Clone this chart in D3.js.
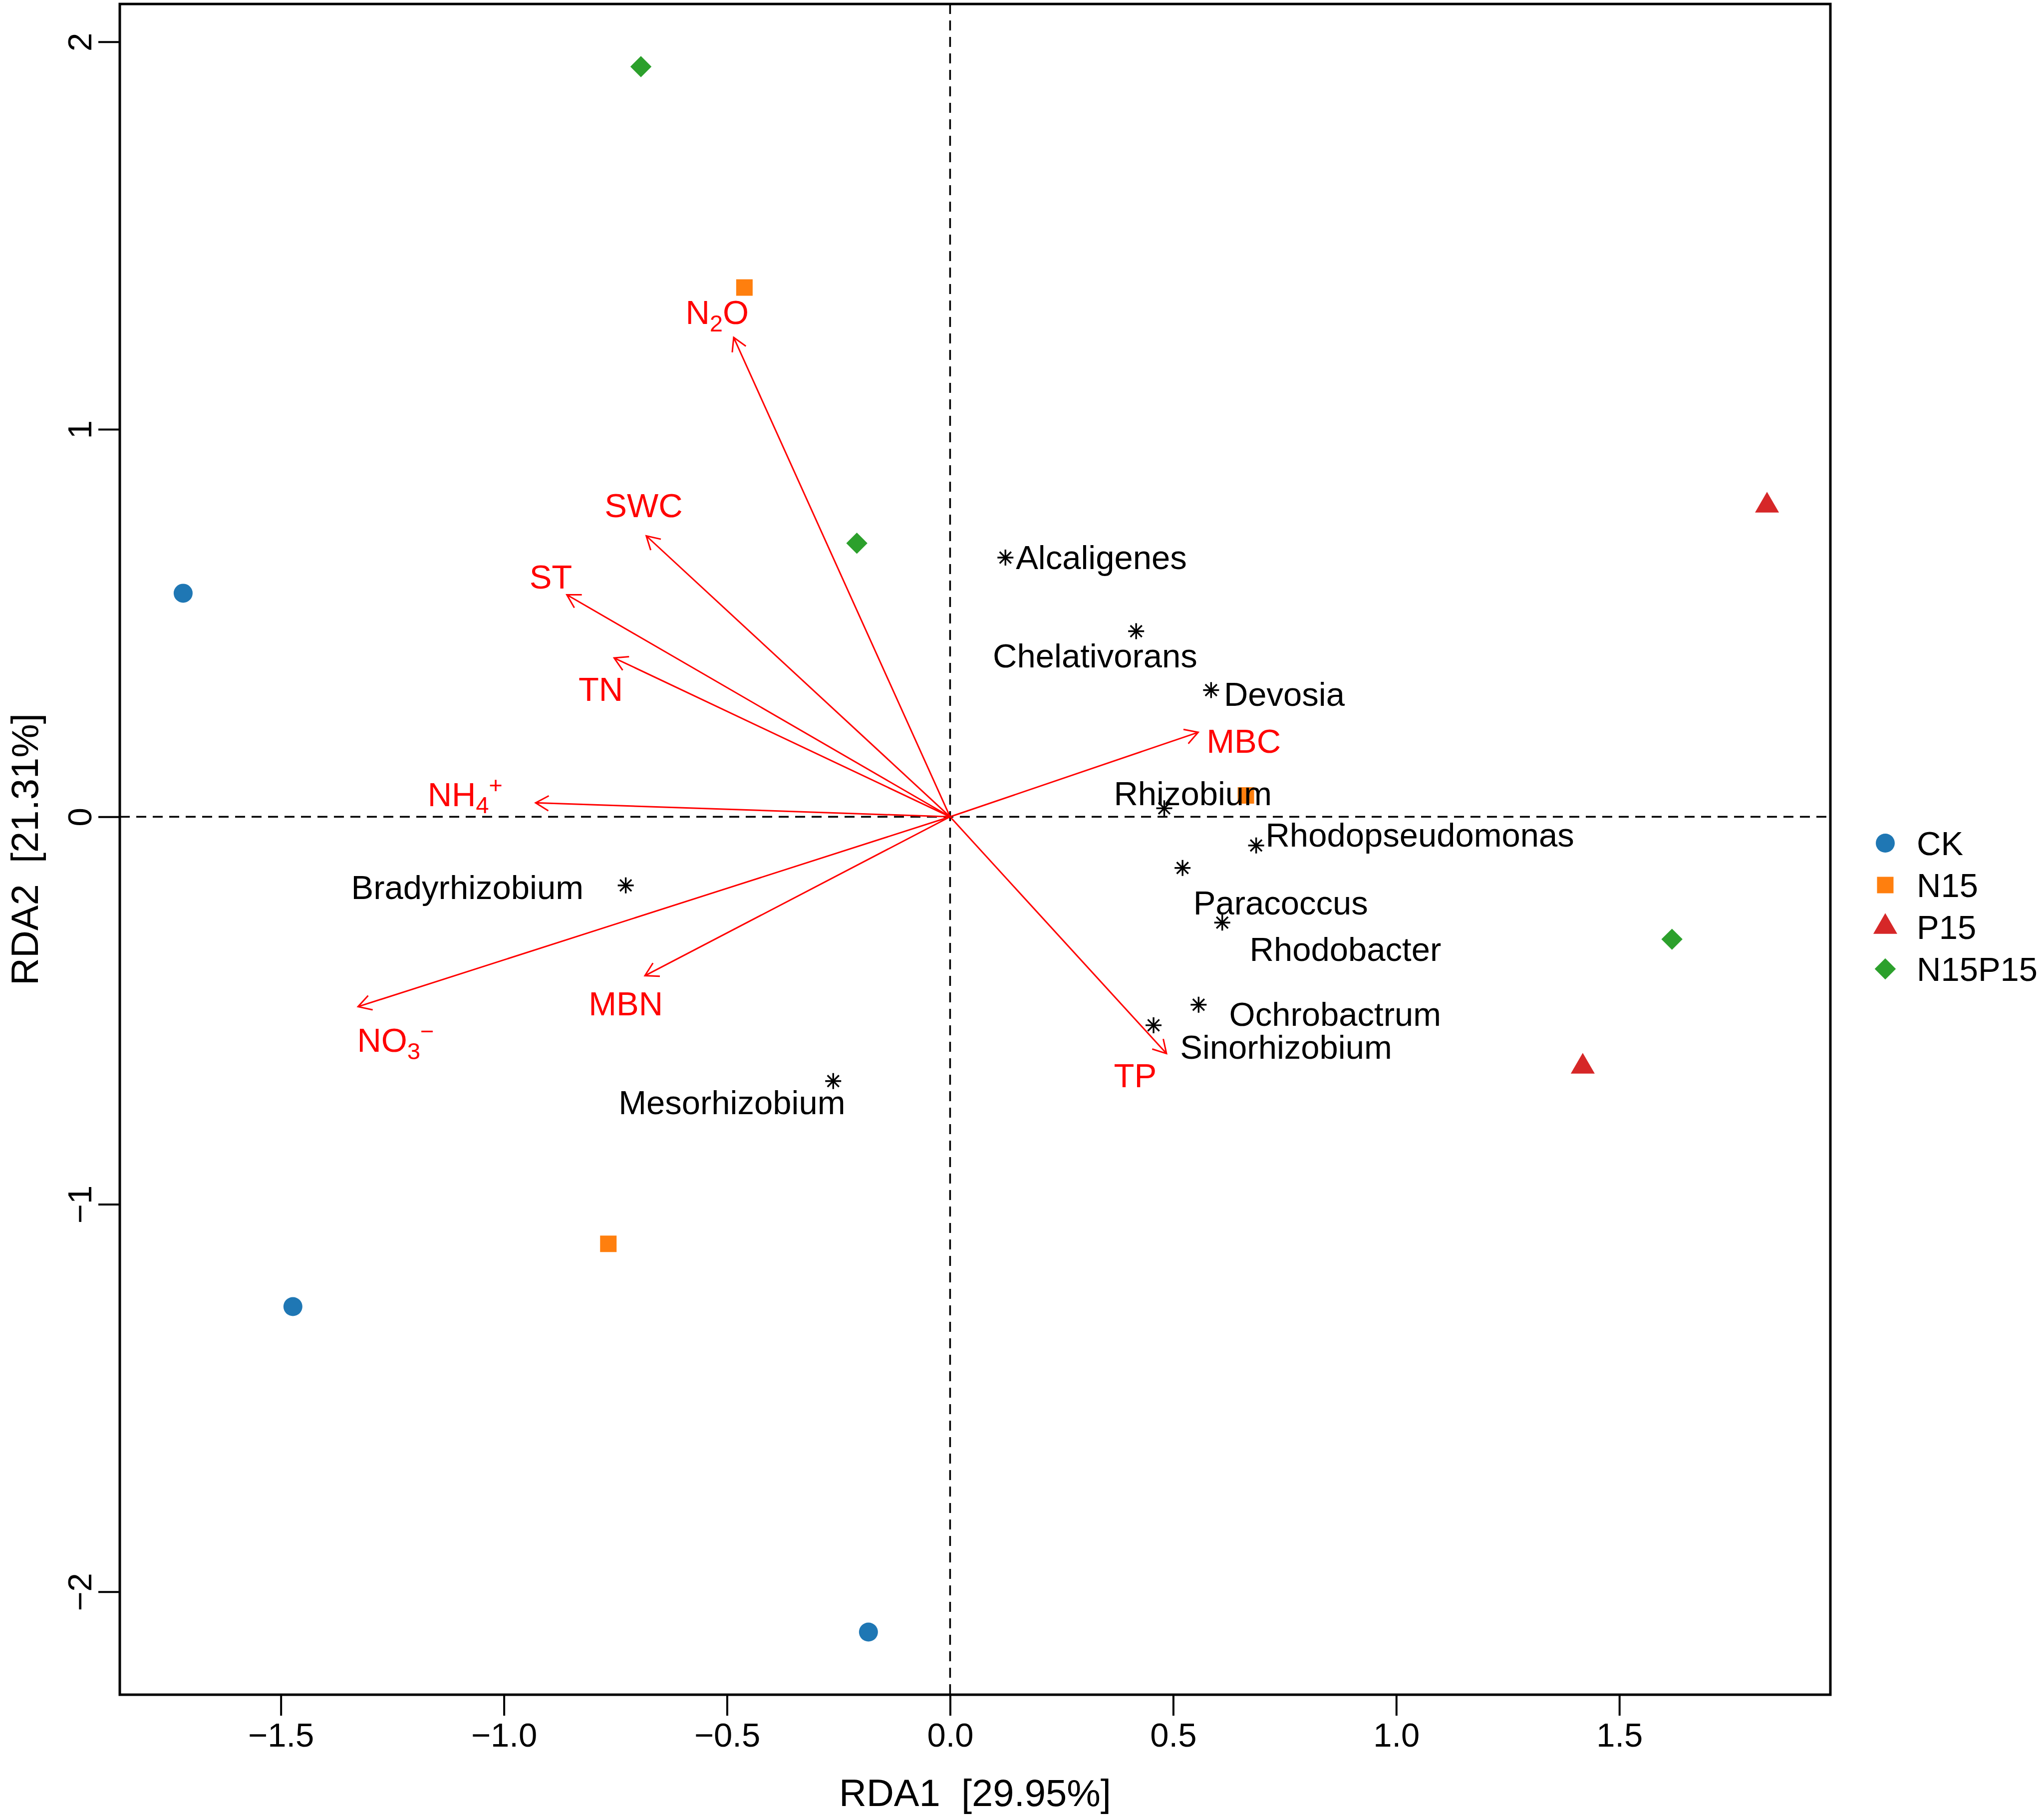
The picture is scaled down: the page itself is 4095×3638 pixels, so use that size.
<!DOCTYPE html>
<html>
<head>
<meta charset="utf-8">
<script src="https://cdn.jsdelivr.net/npm/d3@7"></script>
<style>
  html, body { margin: 0; padding: 0; background: #ffffff; }
  svg { display: block; }
  text { font-family: "Liberation Sans", Arial, "DejaVu Sans", sans-serif; }
</style>
</head>
<body>
<svg id="chart" width="4095" height="3638"></svg>
<script>
// ---------------- data ----------------
const groups = ["CK", "N15", "P15", "N15P15"];

const sampleGroup = ["CK", "CK", "CK", "N15", "N15", "N15", "P15", "P15", "N15P15", "N15P15", "N15P15"];
const sampleRDA1  = [-1.719, -1.473, -0.183, -0.461, -0.766, 0.663, 1.831, 1.418, -0.693, -0.209, 1.618];
const sampleRDA2  = [ 0.577, -1.264, -2.104,  1.366, -1.102, 0.055, 0.803, -0.645, 1.936, 0.706, -0.316];

const speciesNames = ["Alcaligenes", "Chelativorans", "Devosia", "Rhizobium", "Rhodopseudomonas",
  "Paracoccus", "Rhodobacter", "Ochrobactrum", "Sinorhizobium", "Bradyrhizobium", "Mesorhizobium"];
const speciesRDA1 = [0.124, 0.417, 0.585, 0.480, 0.686, 0.521, 0.610, 0.557, 0.456, -0.727, -0.262];
const speciesRDA2 = [0.669, 0.479, 0.327, 0.022, -0.074, -0.132, -0.273, -0.485, -0.538, -0.177, -0.682];
const speciesLabelRDA1 = [0.339, 0.325, 0.749, 0.544, 1.053, 0.741, 0.886, 0.863, 0.753, -1.082, -0.489];
const speciesLabelRDA2 = [0.639, 0.386, 0.287, 0.030, -0.077, -0.252, -0.372, -0.539, -0.624, -0.212, -0.768];

const envNames = ["N2O", "SWC", "ST", "TN", "NH4+", "NO3-", "MBN", "TP", "MBC"];
const envRDA1 = [-0.485, -0.681, -0.859, -0.753, -0.929, -1.327, -0.684, 0.485, 0.556];
const envRDA2 = [ 1.237,  0.725,  0.573,  0.410,  0.036, -0.490, -0.410, -0.611, 0.218];
const envLabelRDA1 = [-0.522, -0.687, -0.895, -0.783, -1.087, -1.243, -0.727, 0.415, 0.658];
const envLabelRDA2 = [ 1.272,  0.773,  0.589,  0.299,  0.028, -0.607, -0.512, -0.698, 0.165];

const xTicks = [-1.5, -1.0, -0.5, 0.0, 0.5, 1.0, 1.5];
const yTicks = [-2, -1, 0, 1, 2];
const xTitle = "RDA1  [29.95%]";
const yTitle = "RDA2  [21.31%]";

// ---------------- styles ----------------
const groupColors = ["#1f77b4", "#ff7f0e", "#d62728", "#2ca02c"];
const envColor = "#ff0000";
const FS = 67;       // in-plot / tick font size
const FS_TITLE = 76; // axis title font size

// ---------------- layout ----------------
const plot = { left: 240, right: 3667, top: 8, bottom: 3395 };

function padded(vals) {
  const lo = d3.min(vals), hi = d3.max(vals), p = (hi - lo) * 0.04;
  return [lo - p, hi + p];
}
const x = d3.scaleLinear().domain(padded(sampleRDA1)).range([plot.left, plot.right]);
const y = d3.scaleLinear().domain(padded(sampleRDA2)).range([plot.bottom, plot.top]);

const svg = d3.select("#chart");
svg.append("rect").attr("width", 4095).attr("height", 3638).attr("fill", "#fff");

const clipId = "plotclip";
svg.append("clipPath").attr("id", clipId).append("rect")
  .attr("x", plot.left).attr("y", plot.top)
  .attr("width", plot.right - plot.left).attr("height", plot.bottom - plot.top);

const inner = svg.append("g").attr("clip-path", `url(#${clipId})`);

// dashed zero lines
inner.append("line")
  .attr("x1", plot.left).attr("x2", plot.right).attr("y1", y(0)).attr("y2", y(0))
  .attr("stroke", "#000").attr("stroke-width", 3.5).attr("stroke-dasharray", "20 13");
inner.append("line")
  .attr("x1", x(0)).attr("x2", x(0)).attr("y1", plot.top).attr("y2", plot.bottom)
  .attr("stroke", "#000").attr("stroke-width", 3.5).attr("stroke-dasharray", "20 13");

// symbols
const symbolPath = {
  CK: d3.symbol().type(d3.symbolCircle).size(Math.PI * 19 * 19)(),
  N15: d3.symbol().type(d3.symbolSquare).size(33 * 33)(),
  P15: d3.symbol().type(d3.symbolTriangle).size(1000)(),
  N15P15: d3.symbol().type(d3.symbolSquare).size(30 * 30)()
};
const symbolRotate = { CK: 0, N15: 0, P15: 0, N15P15: 45 };
const colorOf = g => groupColors[groups.indexOf(g)];

// sample points
inner.append("g").selectAll("path")
  .data(sampleGroup.map((g, i) => ({ g, a: sampleRDA1[i], b: sampleRDA2[i] })))
  .join("path")
  .attr("d", d => symbolPath[d.g])
  .attr("transform", d => `translate(${x(d.a)},${y(d.b)}) rotate(${symbolRotate[d.g]})`)
  .attr("fill", d => colorOf(d.g));

// environmental arrows
const arrowG = inner.append("g").attr("stroke", envColor).attr("stroke-width", 3).attr("fill", "none");
envNames.forEach((n, i) => {
  const x0 = x(0), y0 = y(0), x1 = x(envRDA1[i]), y1 = y(envRDA2[i]);
  arrowG.append("line").attr("x1", x0).attr("y1", y0).attr("x2", x1).attr("y2", y1);
  const ang = Math.atan2(y1 - y0, x1 - x0);
  const L = 30, spread = Math.PI / 6;
  const p1 = [x1 - L * Math.cos(ang - spread), y1 - L * Math.sin(ang - spread)];
  const p2 = [x1 - L * Math.cos(ang + spread), y1 - L * Math.sin(ang + spread)];
  arrowG.append("path").attr("d", `M${p1[0]},${p1[1]}L${x1},${y1}L${p2[0]},${p2[1]}`);
});

// species markers (pch 8 style star)
const starG = inner.append("g").attr("stroke", "#000").attr("stroke-width", 3.4);
speciesNames.forEach((n, i) => {
  const cx = x(speciesRDA1[i]), cy = y(speciesRDA2[i]), r = 16, d = r * 0.72;
  const g = starG.append("g").attr("transform", `translate(${cx},${cy})`);
  g.append("line").attr("x1", -r).attr("x2", r).attr("y1", 0).attr("y2", 0);
  g.append("line").attr("x1", 0).attr("x2", 0).attr("y1", -r).attr("y2", r);
  g.append("line").attr("x1", -d).attr("x2", d).attr("y1", -d).attr("y2", d);
  g.append("line").attr("x1", -d).attr("x2", d).attr("y1", d).attr("y2", -d);
});

// species labels
inner.append("g").selectAll("text")
  .data(speciesNames.map((n, i) => ({ n, a: speciesLabelRDA1[i], b: speciesLabelRDA2[i] })))
  .join("text")
  .attr("x", d => x(d.a)).attr("y", d => y(d.b))
  .attr("text-anchor", "middle")
  .attr("font-size", FS).attr("fill", "#000")
  .text(d => d.n);

// environmental labels with sub/superscripts
function envLabel(sel, name) {
  const sub = (t) => sel.append("tspan").attr("font-size", FS * 0.7).attr("dy", FS * 0.22).text(t);
  if (name === "N2O") {
    sel.append("tspan").text("N");
    sub("2");
    sel.append("tspan").attr("dy", -FS * 0.22).text("O");
  } else if (name === "NH4+") {
    sel.append("tspan").text("NH");
    sub("4");
    sel.append("tspan").attr("font-size", FS * 0.7).attr("dy", -FS * 0.6).text("+");
  } else if (name === "NO3-") {
    sel.append("tspan").text("NO");
    sub("3");
    sel.append("tspan").attr("font-size", FS * 0.7).attr("dy", -FS * 0.6).text("\u2212");
  } else {
    sel.text(name);
  }
}
envNames.forEach((n, i) => {
  const t = inner.append("text")
    .attr("x", x(envLabelRDA1[i])).attr("y", y(envLabelRDA2[i]))
    .attr("text-anchor", "middle").attr("font-size", FS).attr("fill", envColor);
  envLabel(t, n);
});

// frame
svg.append("rect")
  .attr("x", plot.left).attr("y", plot.top)
  .attr("width", plot.right - plot.left).attr("height", plot.bottom - plot.top)
  .attr("fill", "none").attr("stroke", "#000").attr("stroke-width", 5);

// x axis
const fmtX = d3.format(".1f");
const xAxis = svg.append("g").attr("transform", `translate(0,${plot.bottom})`)
  .call(d3.axisBottom(x).tickValues(xTicks).tickFormat(fmtX).tickSize(42).tickPadding(14));
xAxis.select(".domain").remove();
xAxis.selectAll(".tick line").attr("stroke", "#000").attr("stroke-width", 4);
xAxis.selectAll(".tick text").attr("font-size", FS).attr("fill", "#000")
  .attr("font-family", '"Liberation Sans", Arial, sans-serif');

// y axis
const fmtY = d3.format("d");
const yAxis = svg.append("g").attr("transform", `translate(${plot.left},0)`)
  .call(d3.axisLeft(y).tickValues(yTicks).tickFormat(fmtY).tickSize(43).tickPadding(0));
yAxis.select(".domain").remove();
yAxis.selectAll(".tick line").attr("stroke", "#000").attr("stroke-width", 4);
yAxis.selectAll(".tick text")
  .attr("font-size", FS).attr("fill", "#000")
  .attr("font-family", '"Liberation Sans", Arial, sans-serif')
  .attr("x", null).attr("dy", null)
  .attr("text-anchor", "middle")
  .attr("transform", `translate(${183 - plot.left},0) rotate(-90)`);

// axis titles
svg.append("text")
  .attr("x", (plot.left + plot.right) / 2).attr("y", 3618)
  .attr("text-anchor", "middle").attr("font-size", FS_TITLE).attr("fill", "#000")
  .style("white-space", "pre")
  .text(xTitle);
svg.append("text")
  .attr("transform", `translate(76,${(plot.top + plot.bottom) / 2}) rotate(-90)`)
  .attr("text-anchor", "middle").attr("font-size", FS_TITLE).attr("fill", "#000")
  .style("white-space", "pre")
  .text(yTitle);

// legend
const legend = svg.append("g");
groups.forEach((g, i) => {
  const cy = 1689 + i * 84;
  legend.append("path")
    .attr("d", symbolPath[g])
    .attr("transform", `translate(3777,${cy}) rotate(${symbolRotate[g]})`)
    .attr("fill", groupColors[i]);
  legend.append("text")
    .attr("x", 3840).attr("y", cy + 24)
    .attr("font-size", FS).attr("fill", "#000")
    .text(g);
});
</script>
</body>
</html>
